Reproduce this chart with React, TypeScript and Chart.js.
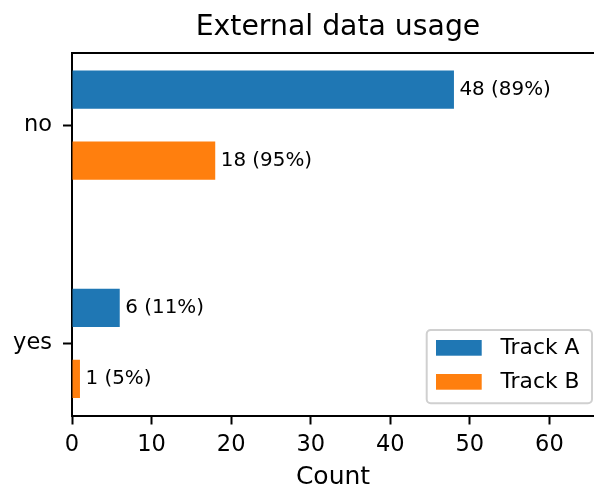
import React, { useEffect, useRef } from 'react';
import { Chart, registerables } from 'chart.js';

Chart.register(...registerables);

const categories = ['no', 'yes'];
const trackA = [48, 6];
const trackB = [18, 1];
const seriesNames = ['Track A', 'Track B'];
const seriesColors = ['#1f77b4', '#ff7f0e'];
const xTickStep = 10;
const xMin = 0;
const xMax = 65.6;
const titleText = 'External data usage';
const xAxisLabel = 'Count';

const FONT = "'DejaVu Sans', sans-serif";
const LW = 2;

const decorPlugin = {
  id: 'decor',
  afterDraw(chart: any) {
    const ctx = chart.ctx;
    const a = chart.chartArea;
    ctx.save();
    // top spine
    ctx.strokeStyle = '#000';
    ctx.lineWidth = LW;
    ctx.beginPath();
    ctx.moveTo(a.left - LW / 2, a.top);
    ctx.lineTo(a.right, a.top);
    ctx.stroke();

    // title
    ctx.fillStyle = '#000';
    ctx.font = `28.3px ${FONT}`;
    ctx.textAlign = 'center';
    ctx.textBaseline = 'alphabetic';
    ctx.fillText(titleText, 338, 35);

    // bar value labels
    ctx.font = `19.9px ${FONT}`;
    ctx.textAlign = 'left';
    ctx.textBaseline = 'middle';
    chart.data.datasets.forEach((ds: any, di: number) => {
      const meta = chart.getDatasetMeta(di);
      const total = ds.data.reduce((s: number, v: number) => s + v, 0);
      meta.data.forEach((el: any, i: number) => {
        const v = ds.data[i];
        ctx.fillText(`${v} (${Math.round((v / total) * 100)}%)`, el.x + 5.5, el.y);
      });
    });

    // legend (lower right, inside axes)
    const lx = 426.7, ly = 330, lw = 165.3, lh = 73.3;
    ctx.beginPath();
    ctx.roundRect(lx, ly, lw, lh, 4);
    ctx.fillStyle = 'rgba(255,255,255,0.8)';
    ctx.fill();
    ctx.strokeStyle = '#d0d0d0';
    ctx.lineWidth = LW;
    ctx.stroke();
    ctx.font = `21.8px ${FONT}`;
    ctx.textAlign = 'left';
    ctx.textBaseline = 'middle';
    chart.data.datasets.forEach((ds: any, di: number) => {
      const cy = 348 + di * 34;
      ctx.fillStyle = ds.backgroundColor;
      ctx.fillRect(436, cy - 8, 45.7, 15.7);
      ctx.fillStyle = '#000';
      ctx.fillText(ds.label, 500.5, cy);
    });
    ctx.restore();
  },
};

export default function App() {
  const ref = useRef<HTMLCanvasElement | null>(null);

  useEffect(() => {
    if (!ref.current) return;
    const chart = new Chart(ref.current, {
      type: 'bar',
      data: {
        labels: categories,
        datasets: [
          {
            label: seriesNames[0],
            data: trackA,
            backgroundColor: seriesColors[0],
            categoryPercentage: 0.65,
            barPercentage: 0.538,
          },
          {
            label: seriesNames[1],
            data: trackB,
            backgroundColor: seriesColors[1],
            categoryPercentage: 0.65,
            barPercentage: 0.538,
          },
        ],
      },
      options: {
        indexAxis: 'y',
        responsive: false,
        maintainAspectRatio: false,
        animation: false,
        layout: { padding: { top: 53, left: 0, right: 0, bottom: 0 } },
        plugins: {
          legend: { display: false },
          title: { display: false },
          tooltip: { enabled: false },
        },
        scales: {
          x: {
            type: 'linear',
            min: xMin,
            max: xMax,
            ticks: {
              stepSize: xTickStep,
              includeBounds: false,
              color: '#000',
              font: { family: FONT, size: 22.5 },
              padding: 7.2,
              maxRotation: 0,
            },
            grid: {
              display: true,
              drawOnChartArea: false,
              drawTicks: true,
              tickLength: 9,
              tickWidth: LW,
              tickColor: '#000',
            },
            border: { display: true, color: '#000', width: LW },
            title: {
              display: true,
              text: xAxisLabel,
              color: '#000',
              font: { family: FONT, size: 25 },
              padding: { top: 0, bottom: 0 },
            },
            afterFit: (s: any) => {
              s.height = 76.5;
            },
          },
          y: {
            type: 'category',
            ticks: {
              color: '#000',
              font: { family: FONT, size: 22.5 },
              padding: 11,
            },
            grid: {
              display: true,
              offset: false,
              drawOnChartArea: false,
              drawTicks: true,
              tickLength: 9,
              tickWidth: LW,
              tickColor: '#000',
            },
            border: { display: true, color: '#000', width: LW },
            afterBuildTicks: (s: any) => {
              s._startValue = -0.33;
              s._valueRange = 1.66;
            },
            afterFit: (s: any) => {
              s.width = 72;
            },
          },
        },
      } as any,
      plugins: [decorPlugin],
    });
    return () => chart.destroy();
  }, []);

  return (
    <div style={{ position: 'absolute', left: 0, top: 0, width: 594, height: 492, background: '#fff' }}>
      <canvas ref={ref} width={594} height={492} style={{ width: 594, height: 492, display: 'block' }} />
    </div>
  );
}
